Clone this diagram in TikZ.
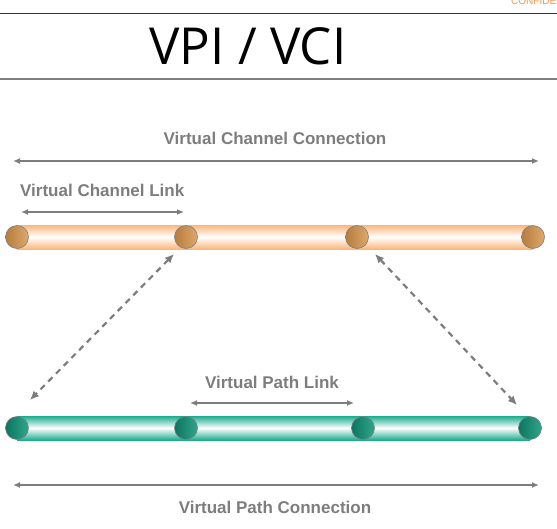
\documentclass[tikz,border=0pt]{standalone}
\usepackage{fontspec}
\setmainfont{Liberation Sans}
\newfontfamily\titlefont{Open Sans}
\usetikzlibrary{arrows.meta,positioning}

\definecolor{labelgray}{RGB}{125,125,125}
\definecolor{tubeorange}{RGB}{252,182,122}
\definecolor{jointorange}{RGB}{214,146,72}
\definecolor{tubegreen}{RGB}{28,172,142}
\definecolor{jointgreen}{RGB}{14,148,120}
\definecolor{confid}{RGB}{240,150,80}

\begin{document}
\begin{tikzpicture}[x=1pt,y=-1pt,
  lbl/.style={text=labelgray, font=\bfseries\fontsize{17}{19}\selectfont, inner sep=0pt},
  span/.style={draw=labelgray, line width=2pt, {Latex[length=7pt,width=6pt]}-{Latex[length=7pt,width=6pt]}},
  hop/.style={draw=labelgray, line width=2.2pt, dash pattern=on 6pt off 5pt, {Latex[length=9pt,width=8pt]}-{Latex[length=9pt,width=8pt]}},
  ojoint/.style={circle, minimum size=23pt, inner sep=0pt, draw=gray, line width=0.6pt,
    shading angle=135, left color=jointorange!85!black, right color=jointorange!80!white},
  gjoint/.style={circle, minimum size=23pt, inner sep=0pt, draw=gray, line width=0.6pt,
    shading angle=135, left color=jointgreen!80!black, right color=jointgreen!85!white}]
  \useasboundingbox (0,0) rectangle (557,528);

  % header
  \begin{scope}
    \clip (490,0) rectangle (557,12);
    \node[anchor=base west, text=confid, font=\fontsize{10}{12}\selectfont, inner sep=0pt] (conf) at (511,4) {CONFIDENTIAL};
  \end{scope}
  \draw[black!80, line width=1pt] (0,13) -- (557,13);
  \node[font=\titlefont\fontsize{51}{58}\selectfont] (title) at (248,46) {VPI / VCI};
  \draw[gray, line width=1.2pt] (0,79) -- (557,79);

  % channel level
  \node[lbl] (vccl) at (275,138) {Virtual Channel Connection};
  \coordinate (vcc-a) at (13,161);
  \coordinate (vcc-b) at (539,161);
  \draw[span] (vcc-a) -- (vcc-b);
  \node[lbl, anchor=west] (vcll) at (20,190) {Virtual Channel Link};
  \coordinate (vcl-a) at (21,212);
  \coordinate (vcl-b) at (184,212);
  \draw[span] (vcl-a) -- (vcl-b);

  \shade[top color=tubeorange, bottom color=tubeorange, middle color=white] (17,225) rectangle (533,249);
  \node[ojoint] (o1) at (17,237) {};
  \node[ojoint] (o2) at (186,237) {};
  \node[ojoint] (o3) at (357,237) {};
  \node[ojoint] (o4) at (533,237) {};

  % path level
  \node[lbl] (vpll) at (272,382) {Virtual Path Link};
  \coordinate (vpl-a) at (190,403);
  \coordinate (vpl-b) at (354,403);
  \draw[span] (vpl-a) -- (vpl-b);

  \shade[top color=tubegreen, bottom color=tubegreen, middle color=white] (17,416) rectangle (530,440);
  \node[gjoint] (g1) at (17,428) {};
  \node[gjoint] (g2) at (186,428) {};
  \node[gjoint] (g3) at (363,428) {};
  \node[gjoint] (g4) at (530,428) {};

  \coordinate (vpc-a) at (13,485);
  \coordinate (vpc-b) at (539,485);
  \draw[span] (vpc-a) -- (vpc-b);
  \node[lbl] (vpcl) at (275,507) {Virtual Path Connection};

  % mapping between the levels
  \draw[hop] ([shift={(-12,17)}]o2.center) -- ([shift={(13,-28)}]g1.center);
  \draw[hop] ([shift={(18,17)}]o3.center) -- ([shift={(-13,-23)}]g4.center);
\end{tikzpicture}
\end{document}
